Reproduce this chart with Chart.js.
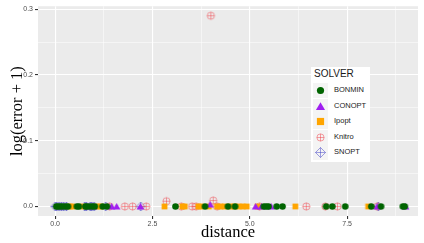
<!DOCTYPE html>
<html>
<head>
<meta charset="utf-8">
<script src="https://cdn.jsdelivr.net/npm/chart.js@4"></script>
<style>
  body { margin: 0; background: #fff; }
  #wrap { position: relative; width: 424px; height: 243px; }
  #legend {
    position: absolute; left: 311px; top: 67px; width: 59px; height: 95px;
    background: #fff; font-family: "Liberation Sans", Arial, sans-serif;
  }
  #legend .title { position: absolute; left: 3px; top: 1px; font-size: 10px; color: #1a1a1a; }
  #legend .row { position: absolute; left: 2px; height: 15px; }
  #legend .row canvas { position: absolute; left: 0; top: 0; background: #f4f4f4; }
  #legend .row span { position: absolute; left: 21px; top: 2px; font-size: 7.5px; color: #1a1a1a; white-space: nowrap; }
</style>
</head>
<body>
<div id="wrap">
  <canvas id="chart" width="424" height="243"></canvas>
  <div id="legend"></div>
</div>
<script>
// values: [distance, log(error + 1)]
const bonmin = [[0.03,0],[0.08,0],[0.14,0],[0.2,0],[0.27,0],[0.33,0],[0.56,0],[0.61,0],[0.78,0],[0.82,0],
  [0.89,0],[0.96,0],[1.02,0],[1.22,0],[1.33,0],[3.09,0],[3.85,0],[4.44,0],[4.62,0],[5.36,0],[5.42,0],
  [5.48,0],[5.69,0],[5.84,0],[6.96,0],[7.12,0],[7.45,0],[8.12,0],[8.37,0],[8.93,0],[8.98,0]];
const conopt = [[0.12,0],[0.24,0],[0.85,0],[0.98,0],[1.45,0],[1.58,0],[2.19,0],[3.98,0.003],[5.15,0],
  [5.3,0],[5.55,0],[8.27,0],[9.0,0]];
const ipopt = [[0.38,0],[0.44,0],[0.7,0],[1.1,0],[1.16,0],[2.81,0],[3.27,0],[3.33,0],[3.68,0],[3.75,0],
  [3.95,0],[4.16,0],[4.25,0],[4.35,0],[4.5,0],[4.6,0],[4.72,0],[4.82,0],[4.92,0],[5.2,0],[6.17,0],[8.04,0]];
const knitro = [[1.4,0],[1.79,0],[1.99,0],[2.34,0],[2.86,0.008],[3.24,0],[3.52,0],[3.62,0],[4.0,0.29],
  [4.06,0.009],[4.16,0],[5.25,0],[6.45,0],[6.94,0],[7.25,0],[8.27,0]];
const snopt = [[0.0,0],[0.04,0],[0.1,0],[0.16,0],[0.22,0],[0.29,0],[0.76,0],[0.8,0],[0.9,0],[0.94,0],
  [1.0,0],[1.3,0],[2.2,0],[8.3,0]];

const solvers = ['BONMIN', 'CONOPT', 'Ipopt', 'Knitro', 'SNOPT'];
const xMajor = [0, 2.5, 5, 7.5];
const xMinor = [1.25, 3.75, 6.25, 8.75];
const yMajor = [0, 0.1, 0.2, 0.3];
const yMinor = [0.05, 0.15, 0.25];

const colors = {
  BONMIN: '#006400',
  CONOPT: '#A020F0',
  Ipopt: '#FFA500',
  Knitro: 'rgba(238,64,72,0.7)',
  SNOPT: 'rgba(72,72,200,0.75)'
};

// draw one marker into a 2d context, centred at (cx, cy)
function drawMarker(ctx, kind, color, cx, cy, r) {
  ctx.fillStyle = color;
  ctx.strokeStyle = color;
  ctx.lineWidth = 0.7;
  ctx.beginPath();
  if (kind === 'BONMIN') {
    ctx.arc(cx, cy, r, 0, Math.PI * 2);
    ctx.fill();
  } else if (kind === 'CONOPT') {
    ctx.moveTo(cx, cy - r * 1.1);
    ctx.lineTo(cx + r * 1.2, cy + r * 0.9);
    ctx.lineTo(cx - r * 1.2, cy + r * 0.9);
    ctx.closePath();
    ctx.fill();
  } else if (kind === 'Ipopt') {
    ctx.rect(cx - r, cy - r, r * 2, r * 2);
    ctx.fill();
  } else if (kind === 'Knitro') {
    ctx.arc(cx, cy, r, 0, Math.PI * 2);
    ctx.moveTo(cx - r, cy); ctx.lineTo(cx + r, cy);
    ctx.moveTo(cx, cy - r); ctx.lineTo(cx, cy + r);
    ctx.stroke();
  } else {
    ctx.moveTo(cx, cy - r); ctx.lineTo(cx + r, cy); ctx.lineTo(cx, cy + r); ctx.lineTo(cx - r, cy);
    ctx.closePath();
    ctx.moveTo(cx - r, cy); ctx.lineTo(cx + r, cy);
    ctx.moveTo(cx, cy - r); ctx.lineTo(cx, cy + r);
    ctx.stroke();
  }
}

function markerCanvas(kind, size, r) {
  const c = document.createElement('canvas');
  c.width = size; c.height = size;
  drawMarker(c.getContext('2d'), kind, colors[kind], size / 2, size / 2, r);
  return c;
}

const pointSizes = { BONMIN: 3.3, CONOPT: 3.2, Ipopt: 2.9, Knitro: 3.6, SNOPT: 4.5 };

const seriesData = [bonmin, conopt, ipopt, knitro, snopt];
const datasets = solvers.map((name, i) => ({
  label: name,
  data: seriesData[i].map(p => ({ x: p[0], y: p[1] })),
  pointStyle: markerCanvas(name, 11, pointSizes[name]),
  pointRadius: 5
}));

const isMajor = (v, list) => list.some(m => Math.abs(m - v) < 1e-9);

const panelBg = {
  id: 'panelBg',
  beforeDraw(chart) {
    const a = chart.chartArea, ctx = chart.ctx;
    ctx.save();
    ctx.fillStyle = '#EBEBEB';
    ctx.fillRect(a.left, a.top, a.right - a.left, a.bottom - a.top);
    ctx.restore();
  }
};

const tickFont = { family: '"Liberation Sans", Arial, sans-serif', size: 7 };
const titleFont = { family: '"Liberation Serif", "DejaVu Serif", serif', size: 16.5 };

new Chart(document.getElementById('chart'), {
  type: 'scatter',
  data: { datasets: datasets },
  plugins: [panelBg],
  options: {
    responsive: false,
    animation: false,
    layout: { padding: { top: 6, right: 4, left: 0, bottom: 0 } },
    plugins: { legend: { display: false }, tooltip: { enabled: false } },
    scales: {
      x: {
        type: 'linear', min: -0.44, max: 9.32,
        afterBuildTicks: s => { s.ticks = xMajor.concat(xMinor).sort((a, b) => a - b).map(v => ({ value: v })); },
        afterFit: s => { s.height = 27; },
        ticks: {
          autoSkip: false, maxRotation: 0, padding: 1, color: '#4d4d4d', font: tickFont,
          callback: v => isMajor(v, xMajor) ? v.toFixed(1) : ''
        },
        grid: {
          color: '#fff', tickLength: 3,
          lineWidth: c => isMajor(c.tick.value, xMajor) ? 1.1 : 0.5,
          tickColor: c => isMajor(c.tick.value, xMajor) ? '#333' : 'rgba(0,0,0,0)'
        },
        border: { display: false },
        title: { display: true, text: 'distance', color: '#000', font: titleFont, padding: { top: 0, bottom: 0 } }
      },
      y: {
        type: 'linear', min: -0.0145, max: 0.3045,
        afterBuildTicks: s => { s.ticks = yMajor.concat(yMinor).sort((a, b) => a - b).map(v => ({ value: v })); },
        afterFit: s => { s.width = 38; },
        ticks: {
          autoSkip: false, padding: 2, color: '#4d4d4d', font: tickFont,
          callback: v => isMajor(v, yMajor) ? v.toFixed(1) : ''
        },
        grid: {
          color: '#fff', tickLength: 3,
          lineWidth: c => isMajor(c.tick.value, yMajor) ? 1.1 : 0.5,
          tickColor: c => isMajor(c.tick.value, yMajor) ? '#333' : 'rgba(0,0,0,0)'
        },
        border: { display: false },
        title: { display: true, text: 'log(error + 1)', color: '#000', font: titleFont, padding: { top: 8, bottom: 0 } }
      }
    }
  }
});

// legend drawn as html, placed inside the panel like the original
const legend = document.getElementById('legend');
legend.innerHTML = '<div class="title">SOLVER</div>';
solvers.forEach((name, i) => {
  const row = document.createElement('div');
  row.className = 'row';
  row.style.top = (16 + i * 15.5) + 'px';
  const r = name === 'SNOPT' ? 5 : (name === 'CONOPT' ? 3.8 : 3.6);
  row.appendChild(markerCanvas(name, 15, r));
  const label = document.createElement('span');
  label.textContent = name;
  row.appendChild(label);
  legend.appendChild(row);
});
</script>
</body>
</html>
